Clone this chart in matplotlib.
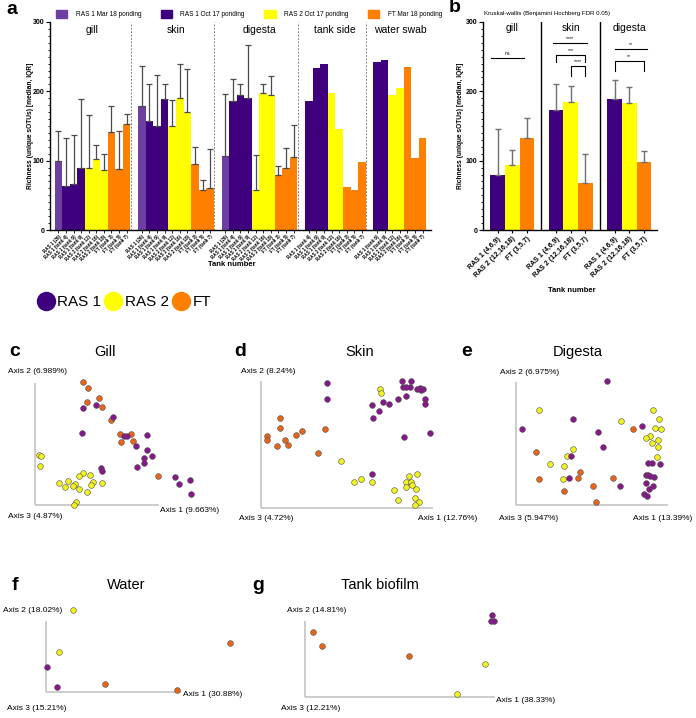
import matplotlib
matplotlib.use('Agg')
import matplotlib.pyplot as plt
from matplotlib.patches import Patch
from matplotlib.lines import Line2D
from matplotlib.ticker import MultipleLocator

plt.rcParams['font.family'] = ['Liberation Sans', 'DejaVu Sans']

W, H = 696, 718

# colours
col = {'mar': '#6c3fa0', 'r1': '#3f007d', 'r2': '#ffff00', 'ft': '#ff7f00'}
pc_purple = '#86198a'
pc_yellow = '#f2f21c'
pc_orange = '#e8641a'

# ---- panel a: richness per tank ----
groups_a = ['gill', 'skin', 'digesta', 'tank side', 'water swab']

gill_cols = ['mar', 'r1', 'r1', 'r1', 'r2', 'r2', 'r2', 'ft', 'ft', 'ft']
gill_vals = [99, 64, 66, 90, 89, 102, 87, 142, 88, 153]
gill_err = [143, 133, 137, 189, 166, 122, 109, 179, 143, 168]
gill_ticks = ['RAS 1 (26)', 'RAS 1 (tank 4)', 'RAS 1 (tank 6)', 'RAS 1 (tank 9)',
              'RAS 2 (tank 12)', 'RAS 2 (tank 16)', 'RAS 2 (tank 18)',
              'FT (tank 3)', 'FT (tank 5)', 'FT (tank 7)']

skin_cols = gill_cols
skin_vals = [179, 157, 150, 189, 150, 191, 170, 95, 57, 61]
skin_err = [237, 211, 224, 211, 188, 239, 232, 120, 72, 117]
skin_ticks = gill_ticks

dig_cols = gill_cols
dig_vals = [107, 186, 194, 190, 58, 198, 194, 79, 90, 105]
dig_err = [196, 218, 210, 267, 108, 211, 222, 93, 118, 152]
dig_ticks = gill_ticks

side_cols = ['r1', 'r1', 'r1', 'r2', 'r2', 'ft', 'ft', 'ft']
side_vals = [186, 233, 240, 198, 145, 62, 57, 98]
side_ticks = ['RAS 1 (tank 4)', 'RAS 1 (tank 6)', 'RAS 1 (tank 9)',
              'RAS 2 (tank 12)', 'RAS 2 (tank 16)',
              'FT (tank 3)', 'FT (tank 5)', 'FT (tank 7)']

swab_cols = ['r1', 'r1', 'r2', 'r2', 'ft', 'ft', 'ft']
swab_vals = [242, 245, 195, 205, 235, 104, 132]
swab_ticks = ['RAS 1 (tank 6)', 'RAS 1 (tank 9)',
              'RAS 2 (tank 12)', 'RAS 2 (tank 16)',
              'FT (tank 3)', 'FT (tank 5)', 'FT (tank 7)']

# ---- panel b: pooled richness ----
groups_b = ['gill', 'skin', 'digesta']
b_ticks = ['RAS 1 (4,6,9)', 'RAS 2 (12,16,18)', 'FT (3,5,7)']
b_vals = [[79, 94, 132], [173, 185, 68], [189, 183, 98]]
b_err = [[145, 116, 161], [211, 208, 110], [216, 206, 114]]

# ---- PCoA panels ----
gill_ft = [(48, 123), (53, 117), (64, 107), (52, 103), (67, 98), (76, 85), (85, 71),
           (96, 71), (86, 63), (98, 64), (123, 29)]
gill_ras1 = [(48, 97), (61, 100), (78, 88), (47, 72), (89, 69), (92, 69), (112, 70),
             (101, 59), (112, 55), (117, 49), (109, 47), (109, 42), (102, 38), (66, 37),
             (67, 34), (140, 28), (144, 21), (155, 25), (156, 11)]
gill_ras2 = [(4, 50), (6, 49), (5, 39), (48, 32), (55, 30), (44, 29), (67, 22), (58, 23),
             (56, 20), (24, 22), (33, 24), (30, 18), (40, 21), (38, 19), (44, 16), (52, 13),
             (41, 3), (39, 0)]

skin_ras1 = [(66, 125), (66, 109), (141, 127), (150, 127), (142, 121), (145, 121), (149, 121),
             (156, 119), (159, 120), (162, 119), (160, 118), (137, 109), (145, 112), (122, 106),
             (128, 104), (111, 103), (118, 97), (112, 90), (164, 109), (164, 104), (143, 71),
             (169, 75), (111, 34)]
skin_ras2 = [(119, 119), (120, 115), (80, 47), (93, 26), (100, 29), (111, 26), (148, 32),
             (156, 34), (145, 26), (150, 26), (145, 21), (151, 23), (155, 19), (133, 18),
             (137, 8), (154, 10), (158, 6), (154, 3)]
skin_ft = [(19, 90), (19, 80), (6, 72), (6, 68), (16, 62), (24, 68), (27, 63), (35, 73),
           (41, 77), (64, 79), (57, 55)]

dig_ras1 = [(91, 124), (57, 86), (6, 76), (82, 73), (87, 58), (126, 79), (55, 49), (132, 42),
            (136, 42), (144, 41), (53, 27), (104, 19), (130, 30), (132, 30), (134, 29),
            (138, 28), (130, 22), (137, 19), (133, 16), (128, 11), (131, 9)]
dig_ras2 = [(23, 95), (137, 95), (143, 86), (105, 84), (139, 77), (145, 76), (134, 69),
            (130, 67), (142, 65), (136, 62), (142, 58), (57, 56), (51, 49), (141, 48),
            (34, 41), (48, 39), (47, 26)]
dig_ft = [(117, 76), (20, 53), (64, 33), (62, 27), (23, 26), (97, 27), (77, 19), (48, 14),
          (80, 3)]

water_ras1 = [(1, 25), (11, 5)]
water_ras2 = [(27, 82), (13, 40)]
water_ft = [(184, 49), (59, 8), (131, 2)]

biofilm_ras1 = [(187, 82), (186, 76), (189, 76)]
biofilm_ras2 = [(180, 33), (152, 3)]
biofilm_ft = [(8, 65), (17, 51), (104, 41)]


fig = plt.figure(figsize=(W / 100, H / 100), dpi=100)


def px_axes(x0, y0, x1, y1):
    return fig.add_axes([x0 / W, 1 - y1 / H, (x1 - x0) / W, (y1 - y0) / H])


def ftext(x, y, s, **kw):
    kw.setdefault('ha', 'center')
    kw.setdefault('va', 'center')
    fig.text(x / W, 1 - y / H, s, **kw)


def style_bar_axis(ax):
    for s in ['top', 'right']:
        ax.spines[s].set_visible(False)
    ax.spines['left'].set_linewidth(1.0)
    ax.spines['bottom'].set_linewidth(1.0)
    ax.set_ylim(0, 300)
    ax.yaxis.set_major_locator(MultipleLocator(100))
    ax.yaxis.set_minor_locator(MultipleLocator(10))
    ax.tick_params(axis='y', which='major', length=3, width=0.8, labelsize=5, pad=1)
    ax.tick_params(axis='y', which='minor', length=1.5, width=0.6)
    for t in ax.get_yticklabels():
        t.set_fontweight('bold')


# ---------------- panel a ----------------
ax = px_axes(50, 22, 431, 230)
style_bar_axis(ax)
starts = [0, 11, 22, 33, 42]
a_sets = [(gill_vals, gill_cols, gill_err, gill_ticks),
          (skin_vals, skin_cols, skin_err, skin_ticks),
          (dig_vals, dig_cols, dig_err, dig_ticks),
          (side_vals, side_cols, None, side_ticks),
          (swab_vals, swab_cols, None, swab_ticks)]
all_pos, all_lab = [], []
for gi, (vals, cols, err, ticks) in enumerate(a_sets):
    pos = [starts[gi] + i for i in range(len(vals))]
    ax.bar(pos, vals, width=1.0, color=[col[c] for c in cols], linewidth=0)
    if err is not None:
        up = [e - v for e, v in zip(err, vals)]
        ax.errorbar(pos, vals, yerr=[[0] * len(vals), up], fmt='none',
                    ecolor='#4a4a4a', elinewidth=0.9, capsize=2.2, capthick=0.9)
    all_pos += pos
    all_lab += ticks
    mid = (pos[0] + pos[-1]) / 2
    ax.text(mid, 288, groups_a[gi], ha='center', va='center', fontsize=7.5)
    if gi < 4:
        ax.axvline(pos[-1] + 0.55, color='#888888', lw=0.7, ls=(0, (2, 1.5)))
ax.set_xlim(-1.1, 49.1)
ax.set_xticks(all_pos)
ax.set_xticklabels(all_lab, rotation=45, ha='right', rotation_mode='anchor',
                   fontsize=3.3, fontweight='bold')
ax.tick_params(axis='x', length=2, width=0.6, pad=1)
ftext(30, 126, 'Richness (unique sOTUs) [median, IQR]', rotation=90,
      fontsize=4.8, fontweight='bold')
ftext(232, 264, 'Tank number', fontsize=5.5, fontweight='bold')
ftext(12, 9, 'a', fontsize=14, fontweight='bold')

leg_a = [Patch(color=col['mar'], label='RAS 1 Mar 18 ponding'),
         Patch(color=col['r1'], label='RAS 1 Oct 17 ponding'),
         Patch(color=col['r2'], label='RAS 2 Oct 17 ponding'),
         Patch(color=col['ft'], label='FT Mar 18 ponding')]
fig.legend(handles=leg_a, loc='center left', bbox_to_anchor=(56 / W, 1 - 14 / H),
           ncol=4, fontsize=4.7, frameon=False, handlelength=1.7, handleheight=1.6,
           handletextpad=1.3, columnspacing=3.0, borderpad=0, borderaxespad=0)

# ---------------- panel b ----------------
bx = px_axes(483, 22, 657, 230)
style_bar_axis(bx)
b_cols = ['r1', 'r2', 'ft']
b_pos_all = []
for gi in range(3):
    pos = [gi * 4 + i for i in range(3)]
    vals = b_vals[gi]
    up = [e - v for e, v in zip(b_err[gi], vals)]
    bx.bar(pos, vals, width=1.0, color=[col[c] for c in b_cols], linewidth=0)
    bx.errorbar(pos, vals, yerr=[[0, 0, 0], up], fmt='none', ecolor='#707070',
                elinewidth=1.0, capsize=2.2, capthick=1.0)
    bx.text(pos[1], 291, groups_b[gi], ha='center', va='center', fontsize=7.5)
    b_pos_all += pos
    if gi < 2:
        bx.axvline(pos[-1] + 1, color='black', lw=1.0)
bx.set_xlim(-1, 10.9)
bx.set_xticks(b_pos_all)
bx.set_xticklabels(b_ticks * 3, rotation=45, ha='right', rotation_mode='anchor',
                   fontsize=5.0, fontweight='bold')
bx.tick_params(axis='x', length=2.5, width=0.8, pad=1.5)


# significance marks
def flat(x0, x1, y, txt):
    bx.plot([x0, x1], [y, y], color='black', lw=0.8)
    bx.text((x0 + x1) / 2, y + 3, txt, ha='center', va='bottom', fontsize=3.8)


def bracket(x0, x1, y, drop, txt):
    bx.plot([x0, x0, x1, x1], [y - drop, y, y, y - drop], color='black', lw=0.8)
    bx.text((x0 + x1) / 2, y + 3, txt, ha='center', va='bottom', fontsize=3.8)


flat(-0.45, 1.8, 248, 'ns')
flat(3.8, 6.1, 269, '****')
bracket(4, 6, 252, 10, '***')
bracket(5, 6, 236, 14, '****')
flat(8, 10.25, 261, '**')
bracket(8, 10, 244, 14, '**')

ftext(461, 126, 'Richness (unique sOTUs) [median, IQR]', rotation=90,
      fontsize=4.8, fontweight='bold')
ftext(572, 291, 'Tank number', fontsize=5.5, fontweight='bold')
ftext(484, 13, 'Kruskal-wallis (Benjamini Hochberg FDR 0.05)', ha='left',
      fontsize=4.4)
ftext(455, 8, 'b', fontsize=14, fontweight='bold')

# ---------------- group legend ----------------
leg_mid = [Line2D([], [], ls='none', marker='o', ms=14, mec='none', mfc=col['r1'], label='RAS 1'),
           Line2D([], [], ls='none', marker='o', ms=14, mec='none', mfc=col['r2'], label='RAS 2'),
           Line2D([], [], ls='none', marker='o', ms=14, mec='none', mfc=col['ft'], label='FT')]
fig.legend(handles=leg_mid, loc='center left', bbox_to_anchor=(38 / W, 1 - 302 / H),
           ncol=3, fontsize=11, frameon=False, handlelength=1.0,
           handletextpad=0.25, columnspacing=0.3, borderpad=0, borderaxespad=0)


# ---------------- PCoA panels ----------------
def pcoa(ox, oy, lx, ly, sets):
    a = px_axes(ox - 30, oy - ly - 30, ox + lx + 60, oy + 12)
    a.set_xlim(-30, lx + 60)
    a.set_ylim(-12, ly + 30)
    a.axis('off')
    a.plot([0, 0], [0, ly], color='#c4c4c4', lw=1.2, solid_capstyle='butt')
    a.plot([0, lx], [0, 0], color='#c4c4c4', lw=1.2, solid_capstyle='butt')
    for pts, c in sets:
        a.scatter([p[0] for p in pts], [p[1] for p in pts], s=17, c=c,
                  edgecolors='#4d4d4d', linewidths=0.4, zorder=3)
    return a


pcoa(35, 505, 124, 122, [(gill_ras2, pc_yellow), (gill_ft, pc_orange), (gill_ras1, pc_purple)])
ftext(15, 352, 'c', fontsize=14, fontweight='bold')
ftext(105, 352, 'Gill', fontsize=10.5)
ftext(38, 372, 'Axis 2 (6.989%)', fontsize=6)
ftext(35, 517, 'Axis 3 (4.87%)', fontsize=6)
ftext(190, 511, 'Axis 1 (9.663%)', fontsize=6)

pcoa(261, 508, 172, 127, [(skin_ras2, pc_yellow), (skin_ft, pc_orange), (skin_ras1, pc_purple)])
ftext(240, 352, 'd', fontsize=14, fontweight='bold')
ftext(360, 352, 'Skin', fontsize=10.5)
ftext(268, 372, 'Axis 2 (8.24%)', fontsize=6)
ftext(266, 518, 'Axis 3 (4.72%)', fontsize=6)
ftext(448, 518, 'Axis 1 (12.76%)', fontsize=6)

pcoa(516, 505, 152, 123, [(dig_ras2, pc_yellow), (dig_ft, pc_orange), (dig_ras1, pc_purple)])
ftext(467, 352, 'e', fontsize=14, fontweight='bold')
ftext(578, 352, 'Digesta', fontsize=10.5)
ftext(530, 373, 'Axis 2 (6.975%)', fontsize=6)
ftext(529, 518, 'Axis 3 (5.947%)', fontsize=6)
ftext(663, 518, 'Axis 1 (13.39%)', fontsize=6)

pcoa(46, 692, 135, 71, [(water_ras2, pc_yellow), (water_ft, pc_orange), (water_ras1, pc_purple)])
ftext(15, 585, 'f', fontsize=14, fontweight='bold')
ftext(126, 585, 'Water', fontsize=10.5)
ftext(33, 610, 'Axis 2 (18.02%)', fontsize=6)
ftext(37, 708, 'Axis 3 (15.21%)', fontsize=6)
ftext(213, 694, 'Axis 1 (30.88%)', fontsize=6)

pcoa(305, 697, 190, 76, [(biofilm_ras2, pc_yellow), (biofilm_ft, pc_orange), (biofilm_ras1, pc_purple)])
ftext(258, 585, 'g', fontsize=14, fontweight='bold')
ftext(380, 585, 'Tank biofilm', fontsize=10.5)
ftext(317, 610, 'Axis 2 (14.81%)', fontsize=6)
ftext(311, 708, 'Axis 3 (12.21%)', fontsize=6)
ftext(526, 700, 'Axis 1 (38.33%)', fontsize=6)

fig.savefig('out.png', dpi=100)
